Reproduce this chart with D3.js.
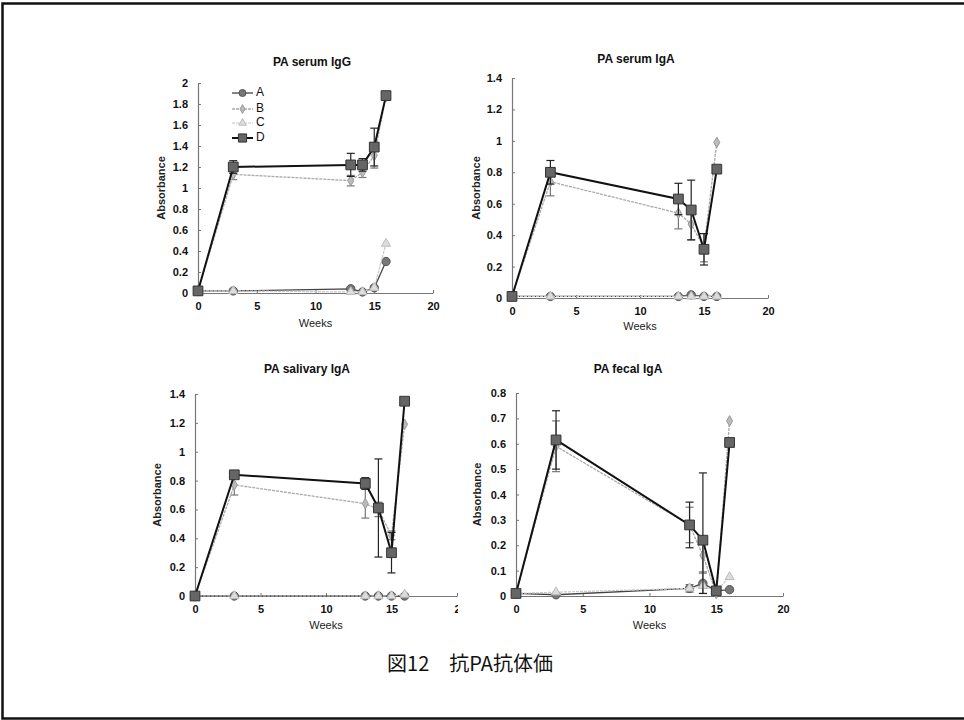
<!DOCTYPE html>
<html><head><meta charset="utf-8">
<script src="https://cdn.jsdelivr.net/npm/d3@7/dist/d3.min.js"></script>
<style>
html,body{margin:0;padding:0;background:#fff;}
svg{display:block;}
</style></head>
<body>
<svg id="chart" width="964" height="720"></svg>
<script>
// ---- data ----
const weeks = [0, 3, 13, 14, 15, 16];
const seriesNames = ["A", "B", "C", "D"];
const panelTitles = ["PA serum IgG", "PA serum IgA", "PA salivary IgA", "PA fecal IgA"];
const xTicks = [0, 5, 10, 15, 20];
const yTicksIgG = [0, 0.2, 0.4, 0.6, 0.8, 1, 1.2, 1.4, 1.6, 1.8, 2];
const yTicks14 = [0, 0.2, 0.4, 0.6, 0.8, 1, 1.2, 1.4];
const yTicksFecal = [0, 0.1, 0.2, 0.3, 0.4, 0.5, 0.6, 0.7, 0.8];

// PA serum IgG
const serumIgG_A = [0.02, 0.02, 0.04, 0.01, 0.05, 0.30];
const serumIgG_B = [0.02, 1.13, 1.07, 1.15, 1.31, 1.87];
const serumIgG_C = [0.02, 0.02, 0.01, 0.01, 0.05, 0.47];
const serumIgG_D = [0.02, 1.20, 1.22, 1.22, 1.39, 1.88];
const serumIgG_Berr = [0, 0.05, 0.05, 0.05, 0.12, 0];
const serumIgG_Derr = [0, 0.06, 0.11, 0.06, 0.18, 0];

// PA serum IgA
const serumIgA_A = [0.01, 0.01, 0.01, 0.02, 0.01, 0.01];
const serumIgA_B = [0.01, 0.74, 0.54, 0.47, 0.32, 0.99];
const serumIgA_C = [0.01, 0.01, 0.01, 0.01, 0.01, 0.01];
const serumIgA_D = [0.01, 0.80, 0.63, 0.56, 0.31, 0.82];
const serumIgA_Berr = [0, 0.09, 0.10, 0.10, 0.09, 0];
const serumIgA_Derr = [0, 0.075, 0.10, 0.19, 0.10, 0];

// PA salivary IgA
const salivaryIgA_A = [0, 0, 0, 0, 0, 0];
const salivaryIgA_B = [0, 0.77, 0.64, 0.60, 0.42, 1.19];
const salivaryIgA_C = [0, 0, 0, 0, 0, 0.01];
const salivaryIgA_D = [0, 0.84, 0.78, 0.61, 0.30, 1.35];
const salivaryIgA_Berr = [0, 0.07, 0.10, 0.05, 0.03, 0];
const salivaryIgA_Derr = [0, 0.02, 0.04, 0.34, 0.14, 0];

// PA fecal IgA
const fecalIgA_A = [0.01, 0.005, 0.03, 0.05, 0.02, 0.025];
const fecalIgA_B = [0.01, 0.59, 0.28, 0.16, 0.01, 0.69];
const fecalIgA_C = [0.01, 0.015, 0.03, 0.04, 0.02, 0.075];
const fecalIgA_D = [0.01, 0.615, 0.28, 0.22, 0.02, 0.605];
const fecalIgA_Aerr = [0, 0, 0.015, 0.045, 0, 0];
const fecalIgA_Berr = [0, 0.10, 0.07, 0.07, 0, 0];
const fecalIgA_Derr = [0, 0.115, 0.09, 0.265, 0, 0];

const caption = "図12　抗PA抗体価";

// ---- layout (pixel frames per panel) ----
const panels = [
  {title: panelTitles[0], x0: 198, x1: 433, y0: 293, y1: 83, ymax: 2, yTicks: yTicksIgG,
   series: [serumIgG_A, serumIgG_B, serumIgG_C, serumIgG_D], err: [null, serumIgG_Berr, null, serumIgG_Derr],
   titleX: 312, titleY: 63, ylabX: 162, xlabY: 324, legend: true},
  {title: panelTitles[1], x0: 512, x1: 768, y0: 298, y1: 78, ymax: 1.4, yTicks: yTicks14,
   series: [serumIgA_A, serumIgA_B, serumIgA_C, serumIgA_D], err: [null, serumIgA_Berr, null, serumIgA_Derr],
   titleX: 636, titleY: 60, ylabX: 477, xlabY: 327, legend: false},
  {title: panelTitles[2], x0: 195, x1: 457, y0: 596, y1: 394, ymax: 1.4, yTicks: yTicks14,
   series: [salivaryIgA_A, salivaryIgA_B, salivaryIgA_C, salivaryIgA_D], err: [null, salivaryIgA_Berr, null, salivaryIgA_Derr],
   titleX: 307, titleY: 370, ylabX: 158, xlabY: 626, legend: false, clipRight: 458},
  {title: panelTitles[3], x0: 516, x1: 783, y0: 596, y1: 393, ymax: 0.8, yTicks: yTicksFecal,
   series: [fecalIgA_A, fecalIgA_B, fecalIgA_C, fecalIgA_D], err: [fecalIgA_Aerr, fecalIgA_Berr, null, fecalIgA_Derr],
   titleX: 628, titleY: 370, ylabX: 478, xlabY: 626, legend: false}
];

const styles = [
  {line: "#444", width: 1.3, fill: "#777", stroke: "#555", shape: d3.symbolCircle, size: 55, dash: null},
  {line: "#aaa", width: 1.3, fill: "#bbb", stroke: "#999", shape: d3.symbolDiamond, size: 32, dash: "3,1"},
  {line: "#c8c8c8", width: 1.2, fill: "#ddd", stroke: "#bbb", shape: d3.symbolTriangle, size: 36, dash: "3,1"},
  {line: "#111", width: 2, fill: "#666", stroke: "#333", shape: d3.symbolSquare, size: 95, dash: null}
];
const errColors = ["#777", "#777", "#aaa", "#222"];

const svg = d3.select("#chart");
const font = "'Liberation Sans', Arial, sans-serif";

// outer frame
svg.append("rect").attr("x", 2.5).attr("y", 3.5).attr("width", 970).attr("height", 715)
  .attr("fill", "none").attr("stroke", "#111").attr("stroke-width", 2.5);

const fmt = d => String(+d.toFixed(1));

panels.forEach((p, pi) => {
  const x = d3.scaleLinear().domain([0, 20]).range([p.x0, p.x1]);
  const y = d3.scaleLinear().domain([0, p.ymax]).range([p.y0, p.y1]);
  const g = svg.append("g");

  // axes
  const ya = g.append("g").attr("transform", `translate(${p.x0},0)`)
    .call(d3.axisLeft(y).tickValues(p.yTicks).tickFormat(fmt).tickSizeInner(-3).tickSizeOuter(0).tickPadding(10));
  const xa = g.append("g").attr("transform", `translate(0,${p.y0})`)
    .call(d3.axisBottom(x).tickValues(xTicks).tickFormat(d3.format("d")).tickSizeInner(-3).tickSizeOuter(0).tickPadding(9));
  [ya, xa].forEach(a => {
    a.select(".domain").attr("stroke", "#777").attr("stroke-width", 1.2);
    a.selectAll(".tick line").attr("stroke", "#777");
    a.selectAll("text").attr("font-family", font).attr("font-size", 11).attr("font-weight", "bold").attr("fill", "#111");
  });
  if (p.clipRight) {
    xa.selectAll(".tick text").filter(d => d === 20).attr("text-anchor", "start").attr("dx", -3).text("2");
    g.append("rect").attr("x", p.clipRight).attr("y", p.y0 + 4).attr("width", 20).attr("height", 16).attr("fill", "#fff");
  }

  // titles
  g.append("text").attr("x", p.titleX).attr("y", p.titleY).attr("text-anchor", "middle").attr("dominant-baseline", "middle")
    .attr("font-family", font).attr("font-size", 12).attr("font-weight", "bold").attr("fill", "#111").text(p.title);
  g.append("text").attr("transform", `translate(${p.ylabX},${(p.y0 + p.y1) / 2}) rotate(-90)`)
    .attr("text-anchor", "middle").attr("dominant-baseline", "middle")
    .attr("font-family", font).attr("font-size", 11).attr("font-weight", "bold").attr("fill", "#222").text("Absorbance");
  g.append("text").attr("x", (p.x0 + p.x1) / 2).attr("y", p.xlabY).attr("text-anchor", "middle").attr("dominant-baseline", "middle")
    .attr("font-family", font).attr("font-size", 11).attr("fill", "#222").text("Weeks");

  // series (draw A, C, B, D so D on top)
  [0, 2, 1, 3].forEach(si => {
    const vals = p.series[si];
    const st = styles[si];
    const pts = weeks.map((w, i) => [w, vals[i]]);
    const err = p.err[si];
    if (err) {
      pts.forEach((pt, i) => {
        if (!err[i]) return;
        const lo = Math.max(pt[1] - err[i], 0.01), hi = pt[1] + err[i];
        const cx = x(pt[0]);
        g.append("line").attr("x1", cx).attr("x2", cx).attr("y1", y(lo)).attr("y2", y(hi)).attr("stroke", errColors[si]).attr("stroke-width", 1.2);
        [lo, hi].forEach(v => g.append("line").attr("x1", cx - 4).attr("x2", cx + 4).attr("y1", y(v)).attr("y2", y(v)).attr("stroke", errColors[si]).attr("stroke-width", 1.2));
      });
    }
    g.append("path").datum(pts)
      .attr("d", d3.line().x(d => x(d[0])).y(d => y(d[1])))
      .attr("fill", "none").attr("stroke", st.line).attr("stroke-width", st.width).attr("stroke-dasharray", st.dash);
    g.selectAll(null).data(pts).join("path")
      .attr("transform", d => `translate(${x(d[0])},${y(d[1])})`)
      .attr("d", d3.symbol().type(st.shape).size(st.size))
      .attr("fill", st.fill).attr("stroke", st.stroke).attr("stroke-width", 1);
  });

  // legend
  if (p.legend) {
    const ly = [93, 109, 123, 138];
    seriesNames.forEach((n, i) => {
      const st = styles[i];
      g.append("line").attr("x1", 232).attr("x2", 253).attr("y1", ly[i]).attr("y2", ly[i])
        .attr("stroke", st.line).attr("stroke-width", st.width).attr("stroke-dasharray", st.dash);
      g.append("path").attr("transform", `translate(242.5,${ly[i]})`)
        .attr("d", d3.symbol().type(st.shape).size(st.size * 0.7))
        .attr("fill", st.fill).attr("stroke", st.stroke);
      g.append("text").attr("x", 256).attr("y", ly[i]).attr("dominant-baseline", "middle")
        .attr("font-family", font).attr("font-size", 12).attr("fill", "#111").text(n);
    });
  }
});

svg.append("text").attr("x", 470).attr("y", 666).attr("text-anchor", "middle").attr("dominant-baseline", "middle")
  .attr("font-family", "'Noto Sans CJK JP', sans-serif").attr("font-size", 20).attr("fill", "#111").text(caption);
</script>
</body></html>
